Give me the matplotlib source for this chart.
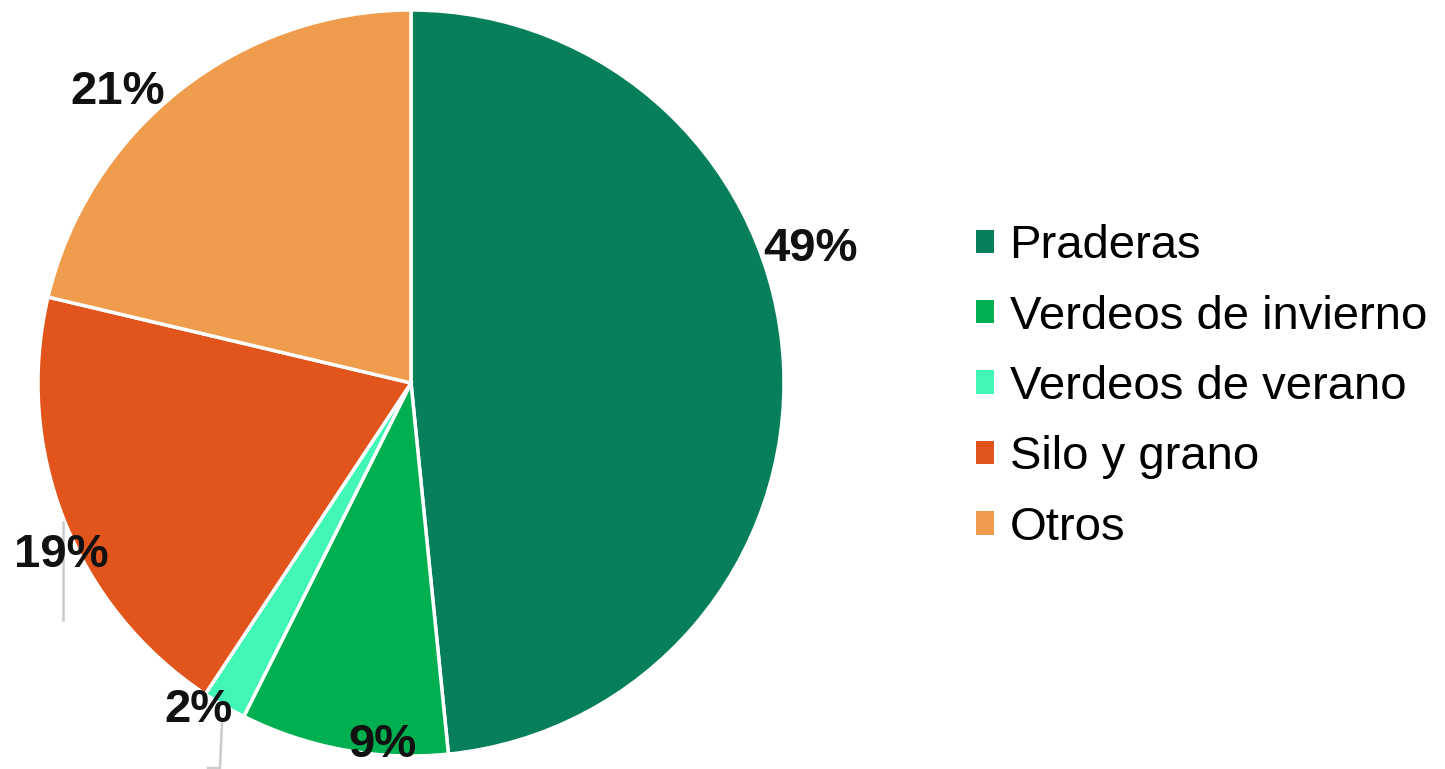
import matplotlib.pyplot as plt
from matplotlib.patches import Patch

plt.rcParams['font.family'] = ['Liberation Sans', 'DejaVu Sans']

# data (slice sizes as drawn, labels as printed)
categories = ["Praderas", "Verdeos de invierno", "Verdeos de verano", "Silo y grano", "Otros"]
shares = [48.4, 9.0, 1.9, 19.4, 21.3]
pct_labels = ["49%", "9%", "2%", "19%", "21%"]
colors = ["#087F5B", "#00B050", "#42F6B6", "#E1541B", "#EF9C4C"]

W, H = 1445, 769
cx, cy, r = 411, 383, 373

fig = plt.figure(figsize=(W / 100, H / 100), dpi=100)
ax = fig.add_axes([(cx - r) / W, (H - cy - r) / H, 2 * r / W, 2 * r / H])

ax.pie(shares, colors=colors, startangle=90, counterclock=False, radius=1,
       wedgeprops=dict(edgecolor="white", linewidth=2.5))
ax.set_xlim(-1, 1)
ax.set_ylim(-1, 1)
ax.set_aspect("equal")
ax.axis("off")


def to_data(px, py):
    return (px - cx) / r, (cy - py) / r


# label placement (pixel positions in the figure)
label_pos = [(810, 249), (382, 745), (199, 710), (61, 555), (118, 92)]
for txt, (px, py) in zip(pct_labels, label_pos):
    x, y = to_data(px, py)
    ax.text(x, y, txt, ha="center", va="center", fontsize=34, fontweight="bold",
            color="#111111", clip_on=False, zorder=5)

# leader lines
for pts in [[(63, 522), (63, 620)], [(222, 722), (220, 768), (208, 768)]]:
    xs, ys = zip(*[to_data(px, py) for px, py in pts])
    ax.plot(xs, ys, color="#cccccc", linewidth=1.8, clip_on=False, zorder=4)

handles = [Patch(facecolor=c, edgecolor="none") for c in colors]
fig.legend(handles, categories, loc="center left", bbox_to_anchor=(976 / W, 1 - 387 / H),
           frameon=False, fontsize=34, handlelength=0.38, handleheight=0.38,
           handletextpad=0.33, labelspacing=0.56, borderaxespad=0, borderpad=0)

fig.savefig("out.png", dpi=100)
